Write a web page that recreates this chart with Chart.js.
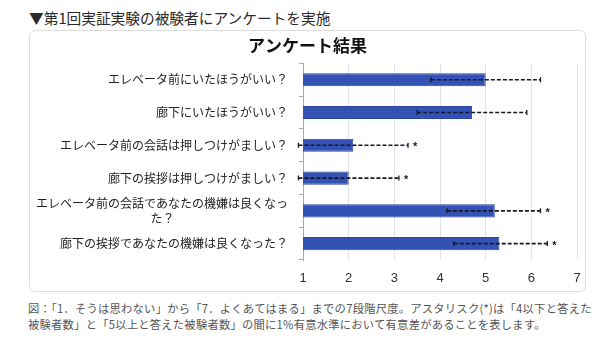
<!DOCTYPE html>
<html lang="ja">
<head>
<meta charset="utf-8">
<script src="https://cdn.jsdelivr.net/npm/chart.js@4.4.1/dist/chart.umd.min.js"></script>
<style>
  html, body { margin: 0; padding: 0; background: #fff; }
  body { width: 600px; height: 352px; position: relative; overflow: hidden; font-family: "Noto Sans CJK JP", sans-serif; }
  #head { position: absolute; left: 29px; top: 8px; font-size: 14.7px; line-height: 20px; color: #2a2a2a; white-space: nowrap; }
  #box { position: absolute; left: 29px; top: 30px; width: 555px; height: 260px; border: 1px solid #dcdcdc; border-radius: 6px; }
  #box canvas { display: block; }
  #caption { position: absolute; left: 28px; top: 300px; font-size: 11.3px; letter-spacing: 0.23px; line-height: 16px; color: #555; white-space: nowrap; }
</style>
</head>
<body>
<div id="head">▼第1回実証実験の被験者にアンケートを実施</div>
<div id="box"><canvas id="surveyChart" width="555" height="260"></canvas></div>
<div id="caption">図：「1．そうは思わない」から「7．よくあてはまる」までの7段階尺度。アスタリスク(*)は「4以下と答えた<br>被験者数」と「5以上と答えた被験者数」の間に1%有意水準において有意差があることを表します。</div>

<script>
// ---------- DATA ----------
const questions = [
  "エレベータ前にいたほうがいい？",
  "廊下にいたほうがいい？",
  "エレベータ前の会話は押しつけがましい？",
  "廊下の挨拶は押しつけがましい？",
  ["エレベータ前の会話であなたの機嫌は良くなっ", "た？\u3000\u3000\u3000\u3000\u3000\u3000\u3000\u3000\u3000  "],
  "廊下の挨拶であなたの機嫌は良くなった？",
];
const means   = [5.0, 4.7, 2.1, 2.0, 5.2, 5.3];
const errLow  = [3.8, 3.5, 0.9, 0.9, 4.15, 4.3];
const errHigh = [6.2, 5.9, 3.3, 3.1, 6.2, 6.35];
const significant = [false, false, true, true, true, true];
const scaleTicks = [1, 2, 3, 4, 5, 6, 7];

// ---------- ERROR BARS + ASTERISKS ----------
const errorBars = {
  id: "errorBars",
  afterDatasetsDraw(chart) {
    const ctx = chart.ctx;
    const xs = chart.scales.x;
    const meta = chart.getDatasetMeta(0);
    ctx.save();
    ctx.strokeStyle = "#15172a";
    ctx.fillStyle = "#15172a";
    ctx.font = "bold 11px 'Liberation Sans', sans-serif";
    ctx.textAlign = "left";
    ctx.textBaseline = "middle";
    meta.data.forEach((bar, i) => {
      const yc = bar.y;
      const x0 = xs.getPixelForValue(errLow[i]);
      const x1 = xs.getPixelForValue(errHigh[i]);
      ctx.lineWidth = 1.6;
      ctx.setLineDash([4, 2]);
      ctx.beginPath();
      ctx.moveTo(x0, yc);
      ctx.lineTo(x1, yc);
      ctx.stroke();
      ctx.setLineDash([]);
      ctx.lineWidth = 1.3;
      ctx.beginPath();
      ctx.moveTo(x0, yc - 2.5);
      ctx.lineTo(x0, yc + 2.5);
      ctx.moveTo(x1, yc - 2.5);
      ctx.lineTo(x1, yc + 2.5);
      ctx.stroke();
      if (significant[i]) ctx.fillText("*", x1 + 5, yc + 2);
    });
    ctx.restore();
  },
};

// ---------- CHART ----------
const ctx = document.getElementById("surveyChart").getContext("2d");
new Chart(ctx, {
  type: "bar",
  data: {
    labels: questions,
    datasets: [
      {
        data: means,
        backgroundColor: "#3352b4",
        borderColor: "#2a45a3",
        borderWidth: 1,
        barPercentage: 0.4,
        categoryPercentage: 1,
      },
    ],
  },
  options: {
    indexAxis: "y",
    responsive: false,
    animation: false,
    layout: { padding: { left: 0, right: 0, top: 0, bottom: 4 } },
    plugins: {
      legend: { display: false },
      tooltip: { enabled: false },
      title: {
        display: true,
        text: "アンケート結果",
        color: "#111",
        font: { family: "'Noto Sans CJK JP', sans-serif", size: 17, weight: "bold" },
        padding: { top: 4, bottom: 8 },
      },
    },
    scales: {
      x: {
        min: scaleTicks[0],
        max: scaleTicks[scaleTicks.length - 1],
        afterFit(scale) {
          scale.height = 27;
          scale.paddingLeft = 0;
          scale.paddingRight = 8;
        },
        ticks: {
          stepSize: 1,
          padding: 11,
          color: "#333",
          font: { family: "'Liberation Sans', sans-serif", size: 13 },
        },
        grid: { color: "#e3e3e3", drawTicks: false },
        border: { display: false },
      },
      y: {
        afterFit(scale) { scale.width = 273; },
        ticks: {
          autoSkip: false,
          padding: 11,
          color: "#222",
          font: { family: "'Noto Sans CJK JP', sans-serif", size: 12 },
        },
        grid: { drawOnChartArea: false, tickLength: 4, color: "#aaa" },
        border: { display: true, color: "#aaa" },
      },
    },
  },
  plugins: [errorBars],
});
</script>
</body>
</html>
